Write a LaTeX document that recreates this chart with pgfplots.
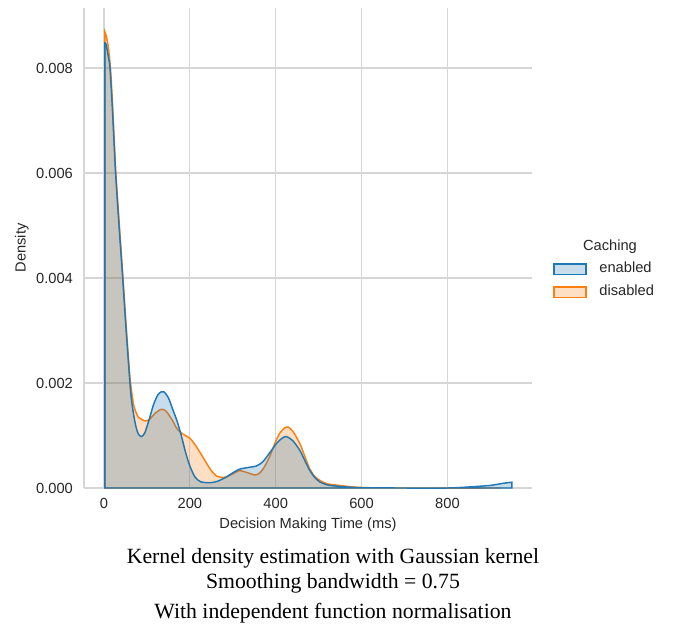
\documentclass[border=0pt]{standalone}
\usepackage{pgfplots}
\pgfplotsset{compat=1.18}
\usepackage{fontspec}
\setmainfont{Liberation Serif}
\newfontfamily\arialf{Liberation Sans}
\definecolor{cblue}{RGB}{31,119,180}
\definecolor{corange}{RGB}{255,127,14}
\definecolor{gridc}{RGB}{214,214,214}
\definecolor{txt}{RGB}{38,38,38}
\begin{document}
\begin{tikzpicture}
\path[use as bounding box] (-63pt,-103.5pt) rectangle (447pt,366pt);
\begin{axis}[
  at={(0,0)}, anchor=south west,
  scale only axis, width=336pt, height=360pt,
  xmin=-46.6, xmax=997, ymin=0, ymax=0.009143,
  axis x line*=bottom, axis y line*=left,
  axis line style={draw=gridc, line width=0.9pt, -},
  major tick length=0pt,
  grid=major, grid style={draw=gridc, line width=0.9pt},
  xtick={0,200,400,600,800},
  ytick={0,0.002,0.004,0.006,0.008},
  scaled y ticks=false,
  yticklabel style={/pgf/number format/fixed, /pgf/number format/fixed zerofill, /pgf/number format/precision=3},
  /pgf/number format/assume math mode=true,
  tick label style={font=\arialf\fontsize{11}{13}\selectfont, text=txt},
  yticklabel style={xshift=-4.8pt},
  xticklabel style={yshift=-3.8pt},
  label style={font=\arialf\fontsize{11}{13}\selectfont, text=txt},
  xlabel={Decision Making Time (ms)},
  ylabel={Density},
  xlabel style={at={(axis description cs:0.5,0)}, anchor=base, yshift=-30pt},
  ylabel style={at={(axis description cs:-0.139,0.5)}, anchor=center},
  reverse legend,
  legend style={at={(axis description cs:1.0469,0.4708)}, anchor=north west,
    draw=none, fill=none, inner sep=0pt,
    font=\arialf\fontsize{11}{13}\selectfont, text=txt,
    nodes={inner sep=0pt, text height=8pt, text depth=2.5pt},
    row sep=6.75pt},
  legend cell align=left,
  /tikz/every odd column/.append style={column sep=9.5pt},
  legend image code/.code={\draw[#1] (0pt,-4.1pt) rectangle (24pt,4.1pt);},
]
\addplot[draw=corange, fill=corange, fill opacity=0.25, line width=1.1pt, smooth, tension=0.45] table {
x y
2 0.00869
5 0.00862
10 0.00840
15 0.00800
20 0.00730
27 0.00610
35 0.00510
43.5 0.00410
52 0.00305
60 0.00215
65 0.00180
70 0.00155
80 0.00135
95 0.00128
105 0.00130
120 0.00143
134 0.00150
145 0.00146
160 0.00128
170 0.00113
185 0.00102
200 0.00095
215 0.00079
228 0.00062
239 0.00047
250 0.00033
262 0.00023
275 0.00020
285 0.00021
300 0.00027
316 0.00033
335 0.00029
350 0.00025
360 0.00027
372 0.00038
386 0.00060
398 0.00085
409 0.00104
420 0.00114
429 0.00116
440 0.00108
456 0.00085
468 0.00060
479 0.00037
490 0.00023
502 0.00015
520 0.00008
549 0.00005
580 0.00002
620 0.000005
700 0
925 0
} \closedcycle;
\addlegendentry{disabled}
\addplot[draw=cblue, fill=cblue, fill opacity=0.25, line width=1.1pt, smooth, tension=0.45] table {
x y
2 0.00848
5 0.00845
10 0.00822
14 0.00800
20 0.00715
27 0.00600
35 0.00500
43.5 0.00400
52 0.00295
60.5 0.00200
64 0.00168
70 0.00135
75 0.00115
80 0.00103
87 0.00098
95 0.00105
105 0.00130
115 0.00158
125 0.00177
133 0.00183
140 0.00183
150 0.00172
160 0.00150
170 0.00128
180 0.00100
190 0.00068
200 0.00042
212 0.00021
225 0.00012
246 0.00010
265 0.00013
285 0.00021
300 0.00029
316 0.00036
335 0.00039
355 0.00042
370 0.00050
385 0.00066
402 0.00085
415 0.00095
425 0.00098
440 0.00090
456 0.00072
468 0.00052
479 0.00034
490 0.00021
502 0.00012
520 0.00006
549 0.00003
600 0.000005
700 0
800 0
850 0.00002
900 0.00005
930 0.00009
950 0.00011
} \closedcycle;
\addlegendentry{enabled}
\end{axis}
\node[font=\arialf\fontsize{11}{13}\selectfont, text=txt] at (394.5pt,180.75pt) {Caching};
\node[font=\fontsize{16.3}{18}\selectfont, anchor=base] at (186.75pt,-56.5pt) {Kernel density estimation with Gaussian kernel};
\node[font=\fontsize{16.3}{18}\selectfont, anchor=base] at (186.75pt,-75.2pt) {Smoothing bandwidth = 0.75};
\node[font=\fontsize{16.3}{18}\selectfont, anchor=base] at (186.75pt,-97.7pt) {With independent function normalisation};
\end{tikzpicture}
\end{document}
